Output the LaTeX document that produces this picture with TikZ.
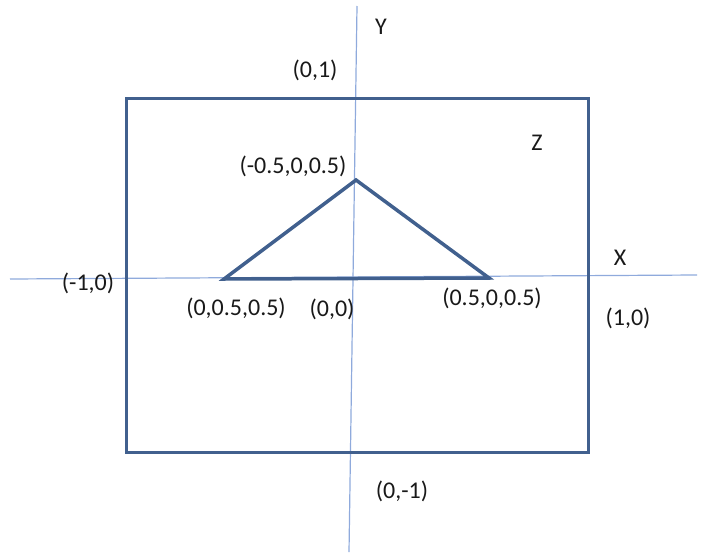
\documentclass[tikz,border=0pt]{standalone}
\usepackage{fontspec}
\setmainfont{Carlito}
\usepackage{xcolor}
\usepackage{tikz}
\usetikzlibrary{calc, positioning}

\definecolor{axisblue}{HTML}{8FAADC}
\definecolor{edgeblue}{HTML}{41608E}

\tikzset{
    axisline/.style={axisblue, line width=1.2pt},
    boxline/.style={edgeblue, line width=3pt},
    triline/.style={edgeblue, line width=3.5pt, line join=miter},
    lbl/.style={font=\fontsize{24}{26}\selectfont, inner sep=0pt, text=black!90}
}

\begin{document}
\begin{tikzpicture}[x=1pt, y=-1pt]
    \useasboundingbox (0,0) rectangle (703,554);

    % Trục tọa độ
    \coordinate (xl) at (10,279);
    \coordinate (xr) at (697,275);
    \coordinate (yt) at (357,6);
    \coordinate (yb) at (349,552);
    \draw[axisline] (xl) -- (xr);
    \draw[axisline] (yt) -- (yb);

    % Khung hình chữ nhật
    \draw[boxline] (126,98) rectangle (588,452);

    % Tam giác
    \coordinate (A) at (356,180);
    \coordinate (B) at (224,279);
    \coordinate (C) at (489,278);
    \draw[triline] (A) -- (B) -- (C) -- cycle;

    % Nhãn
    \node[lbl] (ly) at (381,27) {Y};
    \node[lbl] (lx) at (620,258) {X};
    \node[lbl] (lz) at (537,143) {Z};
    \node[lbl] (top) at (315,70) {(0,1)};
    \node[lbl] (bot) at (402,491) {(0,-1)};
    \node[lbl] (left) at (88,283) {(-1,0)};
    \node[lbl] (right) at (628,318) {(1,0)};
    \node[lbl] (orig) at (332,309) {(0,0)};
    \node[lbl] (pa) at (293,166) {(-0.5,0,0.5)};
    \node[lbl] (pb) at (236,308) {(0,0.5,0.5)};
    \node[lbl] (pc) at (492,298) {(0.5,0,0.5)};
\end{tikzpicture}
\end{document}
